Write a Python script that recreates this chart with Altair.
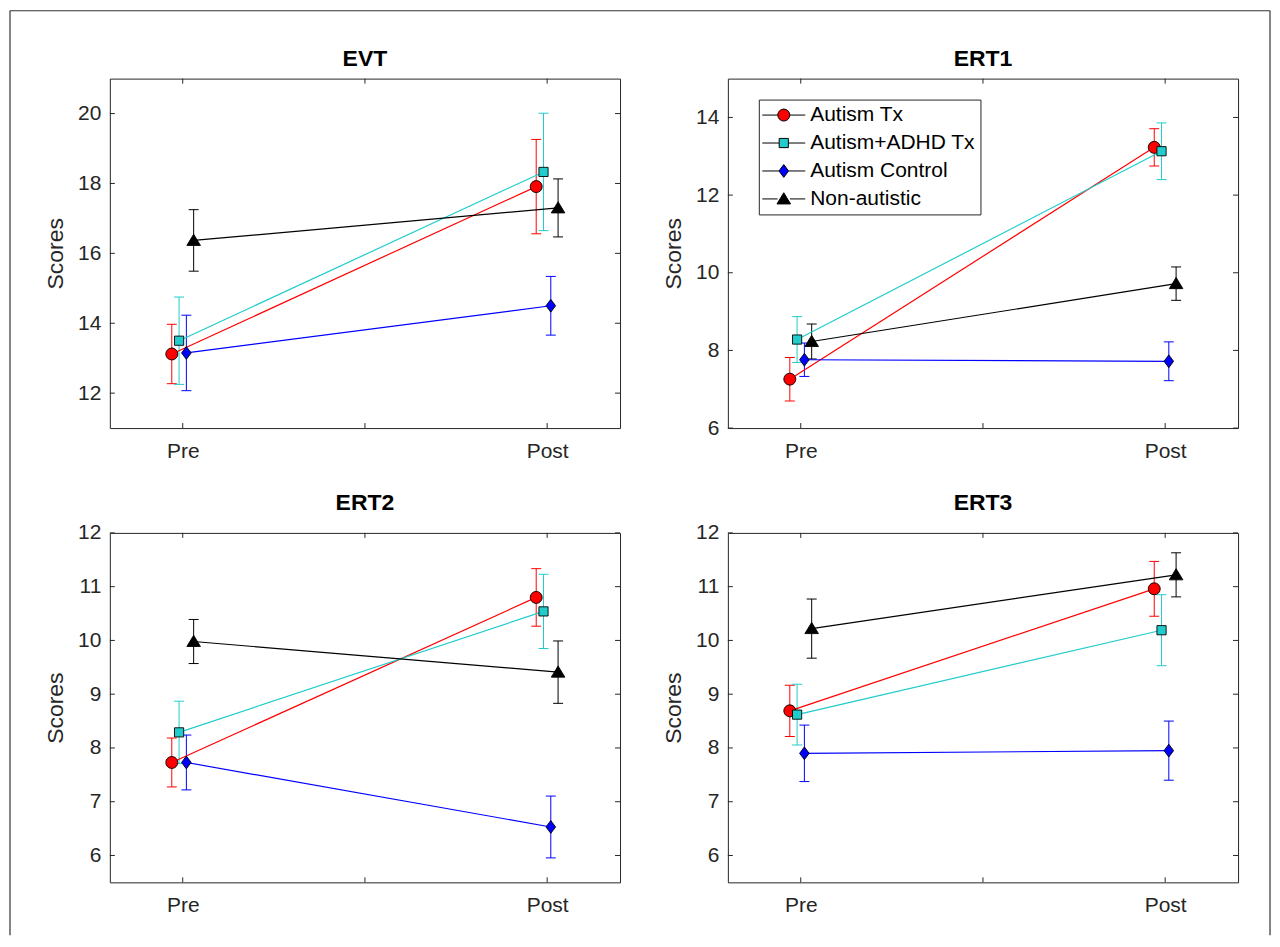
import altair as alt
import pandas as pd

# ---------------- data ----------------
panels = ["EVT", "ERT1", "ERT2", "ERT3"]
groups = ["Autism Tx", "Autism+ADHD Tx", "Autism Control", "Non-autistic"]
phases = ["Pre", "Post"]

pre_mean = {
    "EVT": [13.12, 13.50, 13.15, 16.37],
    "ERT1": [7.26, 8.28, 7.76, 8.23],
    "ERT2": [7.73, 8.29, 7.73, 9.98],
    "ERT3": [8.69, 8.62, 7.90, 10.22],
}
pre_err = {
    "EVT": [0.85, 1.25, 1.08, 0.88],
    "ERT1": [0.56, 0.59, 0.43, 0.45],
    "ERT2": [0.455, 0.58, 0.51, 0.41],
    "ERT3": [0.475, 0.565, 0.525, 0.55],
}
post_mean = {
    "EVT": [17.91, 18.33, 14.50, 17.30],
    "ERT1": [13.23, 13.13, 7.72, 9.72],
    "ERT2": [10.80, 10.54, 6.53, 9.41],
    "ERT3": [10.96, 10.19, 7.95, 11.22],
}
post_err = {
    "EVT": [1.35, 1.68, 0.84, 0.83],
    "ERT1": [0.48, 0.73, 0.50, 0.43],
    "ERT2": [0.535, 0.69, 0.575, 0.58],
    "ERT3": [0.51, 0.66, 0.55, 0.41],
}

y_domain = {"EVT": [11, 21], "ERT1": [6, 15], "ERT2": [5.5, 12], "ERT3": [5.5, 12]}
y_ticks = {
    "EVT": [12, 14, 16, 18, 20],
    "ERT1": [6, 8, 10, 12, 14],
    "ERT2": [6, 7, 8, 9, 10, 11, 12],
    "ERT3": [6, 7, 8, 9, 10, 11, 12],
}
x_ticks = [1, 1.5, 2]
x_tick_labels = ["Pre", "", "Post"]
phase_pos = {"Pre": 1, "Post": 2}

# ---------------- style ----------------
FONT = "Liberation Sans"
AX = "#262626"
colors = ["#ff0000", "#22cccc", "#0000ff", "#000000"]
edge = ["#000000"] * 4
dodge = [-0.03, -0.01, 0.01, 0.03]
marker_paths = [
    "M-0.6,0A0.6,0.6 0 1,0 0.6,0A0.6,0.6 0 1,0 -0.6,0Z",
    "M-0.46,-0.46H0.46V0.46H-0.46Z",
    "M0,-0.64L0.48,0L0,0.64L-0.48,0Z",
    "M0,-0.62L0.68,0.5H-0.68Z",
]
L = 2.15
legend_paths = [
    f"M-{L},0H-0.6M0.6,0H{L}M-0.6,0A0.6,0.6 0 1,0 0.6,0A0.6,0.6 0 1,0 -0.6,0Z",
    f"M-{L},0H-0.46M0.46,0H{L}M-0.46,-0.46H0.46V0.46H-0.46Z",
    f"M-{L},0H-0.48M0.48,0H{L}M0,-0.64L0.48,0L0,0.64L-0.48,0Z",
    f"M-{L},0H-0.62M0.62,0H{L}M0,-0.62L0.68,0.5H-0.68Z",
]
W, H = 511, 350
TL = 5
# outer figure frame, in pixels relative to the first panel's plot area
FR_L, FR_T, FR_R, FR_B = -100, -68, 1162, 858

label_expr = " : ".join(
    f"datum.value == {v} ? '{t}'" for v, t in zip(x_ticks, x_tick_labels)
) + " : ''"


def panel(name, with_legend=False, with_frame=False):
    rows = []
    for gi, g in enumerate(groups):
        for ph in phases:
            m = pre_mean[name][gi] if ph == "Pre" else post_mean[name][gi]
            e = pre_err[name][gi] if ph == "Pre" else post_err[name][gi]
            rows.append(dict(group=g, phase=ph, x=phase_pos[ph] + dodge[gi],
                             mean=m, lo=m - e, hi=m + e))
    df = pd.DataFrame(rows)

    xs = alt.Scale(domain=[0.8, 2.2], nice=False, zero=False)
    ys = alt.Scale(domain=y_domain[name], nice=False, zero=False)
    xax = alt.Axis(values=x_ticks, labelExpr=label_expr, title=None, ticks=False,
                   domain=False, grid=False, labelPadding=12)
    yax = alt.Axis(values=y_ticks[name], title="Scores", ticks=False, domain=False,
                   grid=False, labelPadding=9, titlePadding=10)

    def X(f):
        return alt.X(f, type="quantitative", scale=xs, axis=xax)

    def Y(f):
        return alt.Y(f, type="quantitative", scale=ys, axis=yax)

    col = alt.Color("group:N", scale=alt.Scale(domain=groups, range=colors), legend=None)
    base = alt.Chart(df)

    err = base.mark_rule(strokeWidth=1).encode(x=X("x"), y=Y("lo"), y2=alt.Y2("hi"), color=col)
    cap_lo = base.mark_tick(orient="horizontal", size=10, thickness=1, opacity=1).encode(
        x=X("x"), y=Y("lo"), color=col)
    cap_hi = base.mark_tick(orient="horizontal", size=10, thickness=1, opacity=1).encode(
        x=X("x"), y=Y("hi"), color=col)
    line = base.mark_line(strokeWidth=1.2).encode(x=X("x"), y=Y("mean"), color=col)

    markers = []
    for gi, g in enumerate(groups):
        markers.append(
            base.transform_filter(alt.datum.group == g)
            .mark_point(shape=marker_paths[gi], size=400, filled=True, fill=colors[gi],
                        stroke="black", strokeWidth=0.9, opacity=1)
            .encode(x=X("x"), y=Y("mean"))
        )

    xt = alt.Chart(pd.DataFrame({"v": x_ticks}))
    yt = alt.Chart(pd.DataFrame({"v": y_ticks[name]}))
    tick_layers = [
        xt.mark_rule(color=AX, strokeWidth=1).encode(x=X("v"), y=alt.value(H), y2=alt.value(H - TL)),
        xt.mark_rule(color=AX, strokeWidth=1).encode(x=X("v"), y=alt.value(0), y2=alt.value(TL)),
        yt.mark_rule(color=AX, strokeWidth=1).encode(y=Y("v"), x=alt.value(0), x2=alt.value(TL)),
        yt.mark_rule(color=AX, strokeWidth=1).encode(y=Y("v"), x=alt.value(W), x2=alt.value(W - TL)),
    ]

    layers = tick_layers + [err, cap_lo, cap_hi, line] + markers
    title_offset = 7

    if with_frame:
        fr = alt.Chart(pd.DataFrame({"v": [0]}))
        frame = [
            fr.mark_rule(color="#333333", strokeWidth=1.2).encode(
                x=alt.value(FR_L), y=alt.value(FR_T), y2=alt.value(FR_B)),
            fr.mark_rule(color="#333333", strokeWidth=1.2).encode(
                x=alt.value(FR_R), y=alt.value(FR_T), y2=alt.value(FR_B)),
            fr.mark_rule(color="#333333", strokeWidth=1.2).encode(
                x=alt.value(FR_L), x2=alt.value(FR_R), y=alt.value(FR_T)),
        ]
        layers = frame + layers
        title_offset = 7 + FR_T - 0.1

    if with_legend:
        leg = alt.Legend(
            title=None, orient="none", legendX=31, legendY=21, padding=5,
            strokeColor=AX, fillColor="white", cornerRadius=0,
            symbolSize=400, symbolOffset=9.5, labelOffset=16,
            labelFont=FONT, labelFontSize=21, labelColor="black", labelLimit=400,
            rowPadding=6.0, symbolOpacity=1, symbolStrokeWidth=1,
        )
        legend_layer = (
            base.transform_filter(alt.datum.phase == "Pre")
            .mark_point(size=400, filled=True, opacity=0, strokeWidth=1)
            .encode(
                x=X("x"), y=Y("mean"),
                shape=alt.Shape("group:N", scale=alt.Scale(domain=groups, range=legend_paths), legend=leg),
                fill=alt.Fill("group:N", scale=alt.Scale(domain=groups, range=colors), legend=leg),
                stroke=alt.Stroke("group:N", scale=alt.Scale(domain=groups, range=edge), legend=leg),
            )
        )
        layers.append(legend_layer)

    return alt.layer(*layers).properties(
        width=W, height=H,
        title=alt.TitleParams(name, anchor="middle", offset=title_offset),
    )


chart = (
    alt.concat(
        panel("EVT", with_frame=True), panel("ERT1", with_legend=True),
        panel("ERT2"), panel("ERT3"),
        columns=2, spacing={"row": 105, "column": 108}, bounds="flush",
    )
    .resolve_scale(fill="independent", shape="independent", stroke="independent")
    .properties(padding={"left": 0, "top": 0, "right": 0, "bottom": 0})
    .configure(font=FONT)
    .configure_view(stroke=AX, strokeWidth=1)
    .configure_axis(labelFont=FONT, labelFontSize=21, labelColor=AX,
                    titleFont=FONT, titleFontSize=23, titleFontWeight="normal", titleColor=AX)
    .configure_title(font=FONT, fontSize=23, fontWeight="bold", color="black", offset=7)
)

chart.save("out.html", embed_options={"renderer": "svg", "actions": False})
